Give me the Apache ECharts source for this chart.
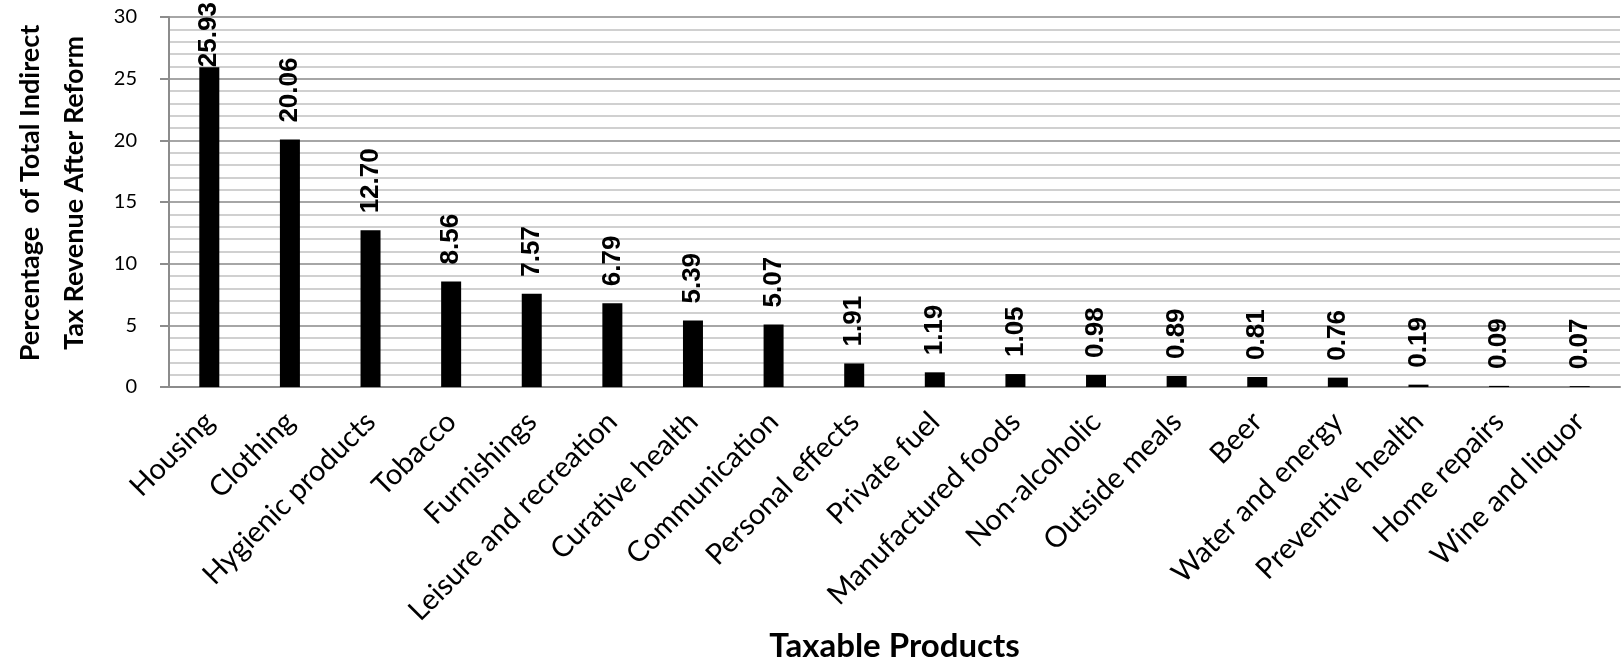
<!DOCTYPE html>
<html>
<head>
<meta charset="utf-8">
<script src="https://cdn.jsdelivr.net/npm/echarts@6/dist/echarts.min.js"></script>
<style>
  html, body { margin: 0; padding: 0; background: #fff; }
  #chart { width: 1621px; height: 661px; }
</style>
</head>
<body>
<div id="chart"></div>
<script>
// 数据
const categories = ['Housing', 'Clothing', 'Hygienic products', 'Tobacco', 'Furnishings',
  'Leisure and recreation', 'Curative health', 'Communication', 'Personal effects',
  'Private fuel', 'Manufactured foods', 'Non-alcoholic', 'Outside meals', 'Beer',
  'Water and energy', 'Preventive health', 'Home repairs', 'Wine and liquor'];
const shares = [25.93, 20.06, 12.70, 8.56, 7.57, 6.79, 5.39, 5.07, 1.91,
  1.19, 1.05, 0.98, 0.89, 0.81, 0.76, 0.19, 0.09, 0.07];
const yTicks = [0, 5, 10, 15, 20, 25, 30];

const chart = echarts.init(document.getElementById('chart'));

// 最高的柱子标签放不下，贴着柱顶
const barData = shares.map((v, i) => i === 0
  ? { value: v, label: { distance: 0 } }
  : v);

const option = {
  animation: false,
  grid: { left: 169, right: 1, top: 17, bottom: 274, outerBoundsMode: 'none', containLabel: false },
  xAxis: {
    type: 'category',
    data: categories,
    name: 'Taxable Products',
    nameLocation: 'middle',
    nameGap: 243,
    nameMoveOverlap: false,
    nameTextStyle: { fontFamily: 'Lato', fontWeight: 'bold', fontSize: 33, color: '#000' },
    axisLine: { lineStyle: { color: '#8c8c8c', width: 2 } },
    axisTick: { show: false },
    axisLabel: {
      interval: 0,
      rotate: 45,
      margin: 30,
      padding: [31, 0, 0, 0],
      fontFamily: 'Lato',
      fontSize: 29,
      color: '#000'
    }
  },
  yAxis: {
    type: 'value',
    min: yTicks[0],
    max: yTicks[yTicks.length - 1],
    interval: 5,
    name: 'Percentage  of Total Indirect\nTax Revenue After Reform',
    nameLocation: 'middle',
    nameGap: 73,
    nameTextStyle: {
      fontFamily: 'Lato', fontWeight: 'bold', fontSize: 27, color: '#000',
      lineHeight: 44, padding: [0, 0, 0, 18]
    },
    axisLine: { show: true, lineStyle: { color: '#8c8c8c', width: 2 } },
    axisTick: { show: true, length: 9, lineStyle: { color: '#8c8c8c', width: 2 } },
    axisLabel: { fontFamily: 'Lato', fontSize: 20, color: '#000', margin: 32 },
    splitLine: { lineStyle: { color: '#a6a6a6', width: 2 } },
    minorTick: { show: false, splitNumber: 5 },
    minorSplitLine: { show: true, lineStyle: { color: '#d0d0d0', width: 2 } }
  },
  series: [{
    type: 'bar',
    data: barData,
    barWidth: 20,
    itemStyle: { color: '#000' },
    label: {
      show: true,
      position: 'top',
      distance: 17,
      rotate: 90,
      align: 'left',
      verticalAlign: 'middle',
      formatter: p => p.value.toFixed(2),
      fontFamily: 'Liberation Sans',
      fontWeight: 'bold',
      fontSize: 26,
      color: '#000'
    }
  }]
};
chart.setOption(option);

window.addEventListener('resize', () => chart.resize());
</script>
</body>
</html>
